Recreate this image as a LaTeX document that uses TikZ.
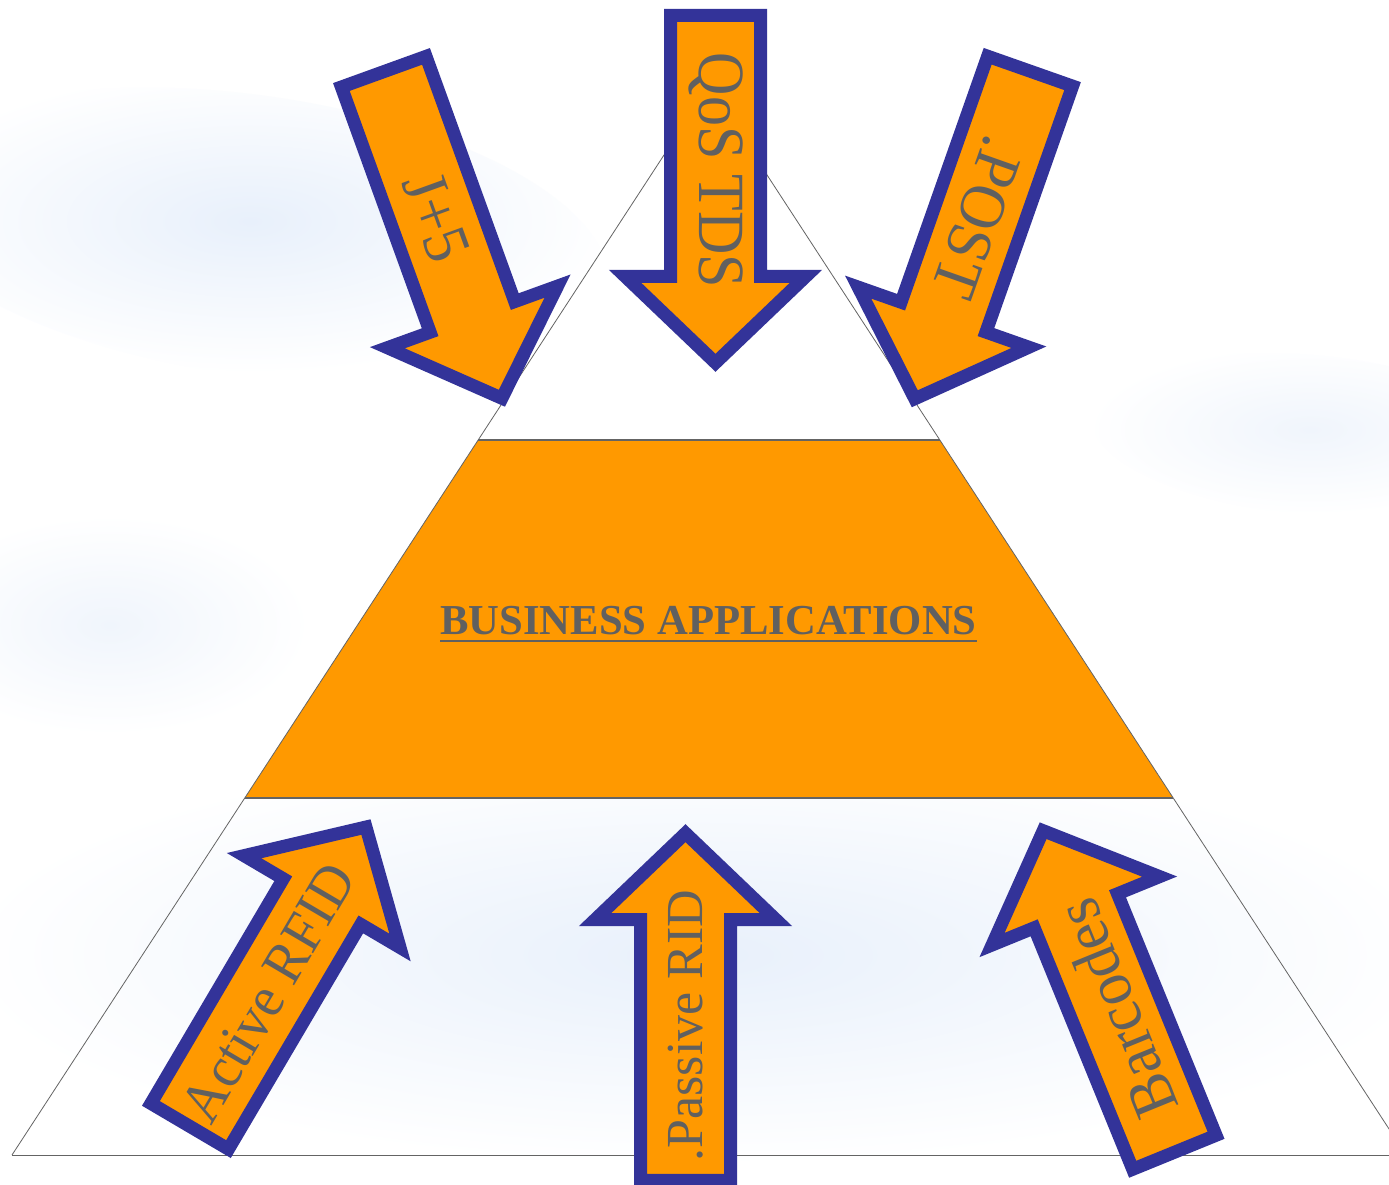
\documentclass[tikz,border=0pt]{standalone}
\usepackage{fontspec}
\setmainfont{Liberation Serif}
\definecolor{pyorange}{RGB}{255,153,0}
\definecolor{arrowblue}{RGB}{51,51,153}
\definecolor{txtgray}{RGB}{96,96,96}
\definecolor{edgegray}{RGB}{100,100,100}
\definecolor{haze}{RGB}{232,240,251}
\definecolor{hazelight}{RGB}{240,245,252}
\newcommand\ulbar[1]{\setbox0\hbox{#1}\rlap{\rule[-5.25pt]{\wd0}{1.5pt}}\box0}
\tikzset{
  arrowbody/.style={draw=arrowblue, fill=pyorange, line width=9.75pt, line join=miter},
  arrowtext/.style={text=txtgray, inner sep=0pt, anchor=center},
  side/.style={draw=edgegray, line width=0.6pt},
  band/.style={draw=edgegray, line width=1.2pt},
}
\newcommand\bigarrow[7]{%
  \begin{scope}[shift={(#1,#2)}, rotate=#3]
    \draw[arrowbody] (-175,-45) -- (85.8,-45) -- (85.8,-90.5) -- (172.3,0)
      -- (85.8,90.5) -- (85.8,45) -- (-175,45) -- cycle;
    \node[arrowtext, rotate=#3, font=\fontsize{#6}{#6}\selectfont] (#4) at (-20,0) {\scalebox{1}[#7]{#5}};
  \end{scope}}
\begin{document}
\begin{tikzpicture}[x=0.75pt, y=0.75pt]
\useasboundingbox (0,0) rectangle (1389,1185);
\clip (0,0) rectangle (1389,1185);
\fill[white] (0,0) rectangle (1389,1185);
% background haze
\shade[inner color=haze, outer color=white, rotate around={-8:(250,950)}] (250,950) ellipse (360 and 140);
\shade[inner color=hazelight, outer color=white, rotate around={-5:(1310,750)}] (1310,750) ellipse (220 and 80);
\shade[inner color=haze, outer color=white] (700,230) ellipse (740 and 210);
\shade[inner color=hazelight, outer color=white] (110,560) ellipse (200 and 110);
% pyramid
\coordinate (A) at (709,1099);
\coordinate (BL) at (12,30);
\coordinate (BR) at (1406,30);
\fill[white] (A) -- (478.2,745) -- (939.8,745) -- cycle;
\fill[pyorange] (478.2,745) -- (939.8,745) -- (1173.2,387) -- (244.8,387) -- cycle;
\draw[side] (BL) -- (A) -- (BR);
\draw[side] (BL) -- (1389,30);
\draw[band] (478.2,745) -- (939.8,745);
\draw[band] (244.8,387) -- (1173.2,387);
\node[text=txtgray, inner sep=0pt, anchor=base, font=\bfseries\fontsize{32}{32}\selectfont] (biz) at (708.5,550) {\ulbar{BUSINESS APPLICATIONS}};
% arrows
\bigarrow{715.5}{994.5}{-90}{qos}{QoS TDS}{45}{1.1}
\bigarrow{443.25}{948.75}{-70.1}{jplus}{J+5}{46}{1.05}
\bigarrow{972}{948.75}{-109.4}{post}{.POST}{46}{1.05}
\bigarrow{278.5}{209.5}{59.5}{active}{Active RFID}{41.5}{1.05}
\bigarrow{685.5}{179.5}{90}{passive}{.Passive RID}{39}{1}
\bigarrow{1108.25}{194.75}{112.2}{barcodes}{Barcodes}{46}{1.05}
\end{tikzpicture}
\end{document}
